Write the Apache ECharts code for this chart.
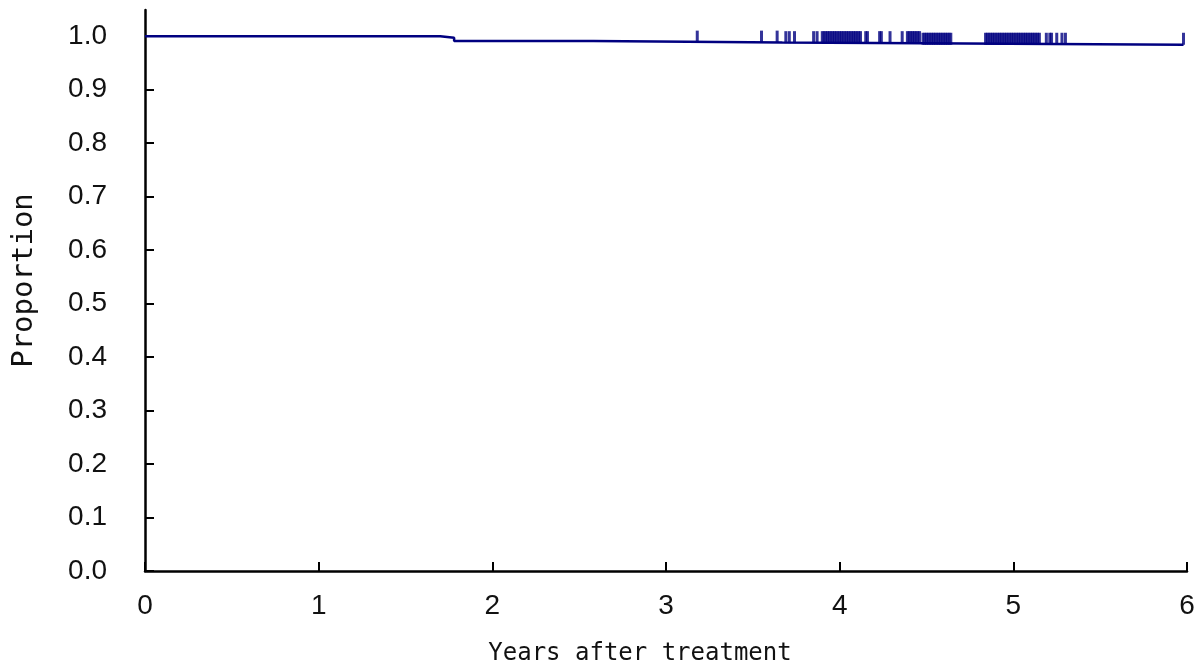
<!DOCTYPE html>
<html>
<head>
<meta charset="utf-8">
<script src="https://cdn.jsdelivr.net/npm/echarts@6/dist/echarts.min.js"></script>
<style>
html,body{margin:0;padding:0;background:#fff;}
#chart{width:1200px;height:666px;}
</style>
</head>
<body>
<div id="chart"></div>
<script>
// Kaplan-Meier step points: time (years) and survival proportion
const stepTimes = [0, 1.70, 1.78, 2.58, 3.67, 4.47, 5.98];
const survival  = [1.0, 0.997, 0.991, 0.988, 0.987, 0.984, 0.984];

// Censoring times (years)
const censorTimes = [
  3.18, 3.55, 3.64, 3.69, 3.71, 3.74, 3.85, 3.87,
  3.90, 3.91, 3.92, 3.93, 3.94, 3.95, 3.96, 3.97, 3.98, 3.99,
  4.00, 4.01, 4.02, 4.03, 4.04, 4.05, 4.06, 4.07, 4.08, 4.09,
  4.10, 4.11, 4.12, 4.15, 4.16, 4.23, 4.24, 4.29, 4.36, 4.39,
  4.40, 4.41, 4.42, 4.43, 4.44, 4.45, 4.46,
  4.48, 4.49, 4.50, 4.51, 4.52, 4.53, 4.54, 4.55, 4.56, 4.57,
  4.58, 4.59, 4.60, 4.61, 4.62, 4.63, 4.64,
  4.84, 4.85, 4.86, 4.87, 4.88, 4.89, 4.90, 4.91, 4.92, 4.93,
  4.94, 4.95, 4.96, 4.97, 4.98, 4.99, 5.00, 5.01, 5.02, 5.03,
  5.04, 5.05, 5.06, 5.07, 5.08, 5.09, 5.10, 5.11, 5.12, 5.13,
  5.14, 5.15, 5.19, 5.21, 5.22, 5.25, 5.28, 5.30, 5.98
];

const yTicks = [0, 0.1, 0.2, 0.3, 0.4, 0.5, 0.6, 0.7, 0.8, 0.9, 1.0];
const xTicks = [0, 1, 2, 3, 4, 5, 6];

function survivalAt(t) {
  let s = survival[0];
  for (let i = 0; i < stepTimes.length; i++) {
    if (stepTimes[i] <= t) s = survival[i];
  }
  return s;
}

// explicit step path (horizontal then vertical)
const lineData = [];
for (let i = 0; i < stepTimes.length; i++) {
  lineData.push([stepTimes[i], survival[i]]);
  if (i + 1 < stepTimes.length) lineData.push([stepTimes[i + 1], survival[i]]);
}
const censorData = censorTimes.map(t => [t, survivalAt(t)]);

const chart = echarts.init(document.getElementById('chart'));
const lineColor = '#000080';
chart.setOption({
  animation: false,
  backgroundColor: '#ffffff',
  grid: { left: 145, right: 13, top: 10, bottom: 95, containLabel: false, outerBoundsMode: 'none' },
  xAxis: {
    type: 'value', min: 0, max: 6, interval: 1,
    axisLine: { show: true, lineStyle: { color: '#000', width: 2.5 } },
    axisTick: { show: true, inside: true, length: 9, lineStyle: { color: '#000', width: 2 } },
    axisLabel: { margin: 21, fontSize: 28, color: '#111', fontFamily: 'Liberation Sans',
                 customValues: xTicks },
    splitLine: { show: false },
    name: 'Years after treatment',
    nameLocation: 'middle', nameGap: 71,
    nameTextStyle: { fontSize: 24, color: '#111', fontFamily: 'DejaVu Sans Mono', padding: [0, 52, 0, 0] }
  },
  yAxis: {
    type: 'value', min: 0, max: 1.049,
    axisLine: { show: true, lineStyle: { color: '#000', width: 2.5 } },
    axisTick: { show: true, inside: true, length: 9, lineStyle: { color: '#000', width: 2 },
                customValues: yTicks },
    axisLabel: { margin: 38, fontSize: 28, color: '#111', fontFamily: 'Liberation Sans',
                 customValues: yTicks, formatter: v => v.toFixed(1) },
    splitLine: { show: false },
    name: 'Proportion',
    nameLocation: 'middle', nameGap: 106,
    nameTextStyle: { fontSize: 29, color: '#111', fontFamily: 'DejaVu Sans Mono', padding: [0, 0, 0, 20] }
  },
  series: [
    {
      type: 'line', data: lineData, showSymbol: false,
      lineStyle: { color: lineColor, width: 2.5 }, z: 3
    },
    {
      type: 'scatter', data: censorData, symbol: 'rect',
      symbolSize: [3, 12], symbolOffset: [0, -6],
      itemStyle: { color: lineColor }, z: 4
    }
  ]
});
</script>
</body>
</html>
